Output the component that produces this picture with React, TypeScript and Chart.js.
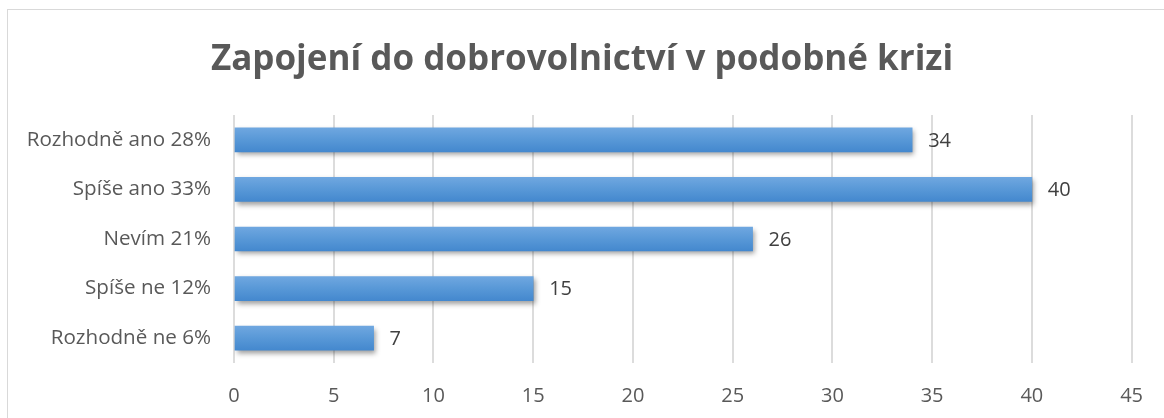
import React, { useEffect, useRef } from "react";
import { Chart, registerables } from "chart.js";

Chart.register(...registerables);

const TITLE = "Zapojení do dobrovolnictví v podobné krizi";
const categories = [
  "Rozhodně ano 28%",
  "Spíše ano 33%",
  "Nevím 21%",
  "Spíše ne 12%",
  "Rozhodně ne 6%",
];
const values = [34, 40, 26, 15, 7];
const X_MIN = 0;
const X_MAX = 45;
const X_STEP = 5;

const FONT = '"Open Sans", "DejaVu Sans", sans-serif';

const barStyle = {
  id: "barStyle",
  afterLayout(chart: any) {
    // centre the title over the whole canvas
    if (chart.titleBlock) {
      chart.titleBlock.left = 0;
      chart.titleBlock.right = chart.width;
      chart.titleBlock.width = chart.width;
    }
  },
  beforeDatasetsDraw(chart: any) {
    const ctx = chart.ctx;
    chart.getDatasetMeta(0).data.forEach((el: any) => {
      const top = el.y - el.height / 2;
      const bottom = el.y + el.height / 2;
      const g = ctx.createLinearGradient(0, top, 0, bottom);
      g.addColorStop(0, "#6fa7e0");
      g.addColorStop(0.5, "#5898d7");
      g.addColorStop(1, "#4488ce");
      el.options = { ...el.options, backgroundColor: g };
    });
  },
  beforeDatasetDraw(chart: any) {
    const ctx = chart.ctx;
    ctx.save();
    ctx.shadowColor = "rgba(0,0,0,0.38)";
    ctx.shadowBlur = 5;
    ctx.shadowOffsetX = 2;
    ctx.shadowOffsetY = 3;
  },
  afterDatasetDraw(chart: any) {
    chart.ctx.restore();
  },
  afterDatasetsDraw(chart: any) {
    const ctx = chart.ctx;
    ctx.save();
    ctx.font = `20px ${FONT}`;
    ctx.fillStyle = "#404040";
    ctx.textAlign = "left";
    ctx.textBaseline = "middle";
    chart.getDatasetMeta(0).data.forEach((el: any, i: number) => {
      ctx.fillText(String(values[i]), el.x + 16, el.y + 1);
    });
    ctx.restore();
  },
};

export default function App() {
  const ref = useRef<HTMLCanvasElement>(null);

  useEffect(() => {
    if (!ref.current) return;
    const chart = new Chart(ref.current, {
      type: "bar",
      data: {
        labels: categories,
        datasets: [
          {
            data: values,
            backgroundColor: () => "#5b9bd5",
            borderWidth: 0,
            barThickness: 24,
          },
        ],
      },
      options: {
        indexAxis: "y",
        animation: false,
        responsive: false,
        maintainAspectRatio: false,
        layout: { padding: { left: 0, right: 30, top: 0, bottom: 0 } },
        plugins: {
          legend: { display: false },
          tooltip: { enabled: false },
          title: {
            display: true,
            text: TITLE,
            color: "#595959",
            font: { family: FONT, size: 35, weight: "bold" },
            padding: { top: 39, bottom: 34 },
          },
        },
        scales: {
          x: {
            min: X_MIN,
            max: X_MAX,
            ticks: {
              stepSize: X_STEP,
              color: "#595959",
              font: { family: FONT, size: 20 },
              padding: 21,
            },
            grid: {
              color: "#dcdcdc",
              lineWidth: 2,
              drawTicks: false,
            },
            border: { display: false },
            afterFit: (s: any) => {
              s.height = 55;
            },
          },
          y: {
            ticks: {
              color: "#595959",
              font: { family: FONT, size: 20.6 },
              padding: 23,
            },
            grid: { display: false, drawTicks: false },
            border: { display: false },
            afterFit: (s: any) => {
              s.width = 234;
            },
          },
        },
      },
      plugins: [barStyle],
    });
    return () => chart.destroy();
  }, []);

  return (
    <div
      style={{
        position: "absolute",
        left: 0,
        top: 0,
        width: 1164,
        height: 418,
        overflow: "hidden",
        background: "#ffffff",
      }}
    >
      <div
        style={{
          position: "absolute",
          left: 7,
          top: 9,
          width: 1170,
          height: 430,
          border: "1.5px solid #d9d9d9",
          boxSizing: "border-box",
        }}
      />
      <canvas
        ref={ref}
        width={1164}
        height={418}
        style={{ position: "absolute", left: 0, top: 0, display: "block" }}
      />
    </div>
  );
}
